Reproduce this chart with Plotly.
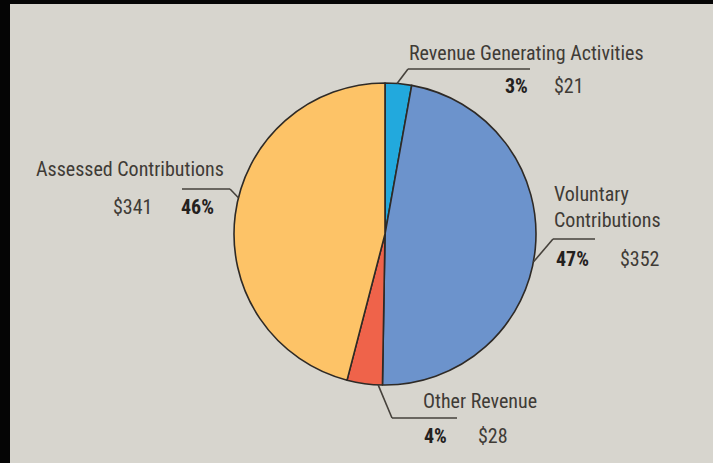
import math
import plotly.graph_objects as go

# Revenue by source (US$ millions)
categories = ["Revenue Generating Activities", "Voluntary Contributions",
              "Other Revenue", "Assessed Contributions"]
values = [21, 352, 28, 341]
label_text = ["Revenue Generating Activities", "Voluntary<br>Contributions",
              "Other Revenue", "Assessed Contributions"]
slice_colors = ["#22A9DD", "#6C93CC", "#EF634A", "#FDC367"]

W, H = 713, 463
total = sum(values)
pcts = [round(v / total * 100) for v in values]

# pie geometry in pixels
CX, CY, R = 385, 234, 151


def px(x):
    return x / W


def py(y):
    return 1 - y / H


fig = go.Figure(go.Pie(
    labels=categories,
    values=values,
    sort=False,
    direction="clockwise",
    rotation=0,
    textinfo="none",
    hoverinfo="label+value+percent",
    marker=dict(colors=slice_colors, line=dict(color="#2E2A26", width=1.6)),
    domain=dict(x=[px(CX - R), px(CX + R)], y=[py(CY + R), py(CY - R)]),
    showlegend=False,
))

# where each leader line touches the rim: fraction through the slice
anchor_frac = [0.45, 0.53, 0.12, 0.54]
# leader elbow and end (pixels), and label placement
leaders = [
    dict(elbow=(408, 69), end=(530, 69), name=(407, 53), pct=(503, 86), amt=(552, 86)),
    dict(elbow=(553, 239), end=(595, 239), name=(552, 207), pct=(554, 259), amt=(618, 259)),
    dict(elbow=(392, 418), end=(457, 418), name=(421, 401), pct=(422, 436), amt=(476, 436)),
    dict(elbow=(230, 189), end=(182, 189), name=(34, 169), pct=(179, 207), amt=(111, 207)),
]

FONT = "Liberation Sans Narrow, Roboto Condensed, DejaVu Sans Condensed, Arial Narrow, sans-serif"
shapes = [dict(type="rect", xref="paper", yref="paper", x0=px(10), x1=1, y0=0, y1=py(4),
               fillcolor="#D7D5CE", line=dict(width=0), layer="below")]
annotations = []

start = 0.0
for i, v in enumerate(values):
    frac = v / total
    ang = (start + frac * anchor_frac[i]) * 2 * math.pi
    start += frac
    ex, ey = CX + R * math.sin(ang), CY - R * math.cos(ang)
    L = leaders[i]
    for (x0, y0), (x1, y1) in [((ex, ey), L["elbow"]), (L["elbow"], L["end"])]:
        shapes.append(dict(type="line", xref="paper", yref="paper",
                           x0=px(x0), y0=py(y0), x1=px(x1), y1=py(y1),
                           line=dict(color="#45413B", width=1.6)))
    annotations.append(dict(text=label_text[i], x=px(L["name"][0]), y=py(L["name"][1]),
                            xref="paper", yref="paper", xanchor="left", yanchor="middle",
                            showarrow=False, align="left",
                            font=dict(family=FONT, size=20, color="#3F3B36")))
    annotations.append(dict(text=f"<b>{pcts[i]}%</b>", x=px(L["pct"][0]), y=py(L["pct"][1]),
                            xref="paper", yref="paper", xanchor="left", yanchor="middle",
                            showarrow=False, font=dict(family=FONT, size=20, color="#24211E")))
    annotations.append(dict(text=f"${values[i]}", x=px(L["amt"][0]), y=py(L["amt"][1]),
                            xref="paper", yref="paper", xanchor="left", yanchor="middle",
                            showarrow=False, font=dict(family=FONT, size=20, color="#3F3B36")))

fig.update_layout(
    width=W, height=H,
    margin=dict(l=0, r=0, t=0, b=0),
    paper_bgcolor="#050505",
    plot_bgcolor="#050505",
    shapes=shapes,
    annotations=annotations,
)

fig.write_html("out.html")
